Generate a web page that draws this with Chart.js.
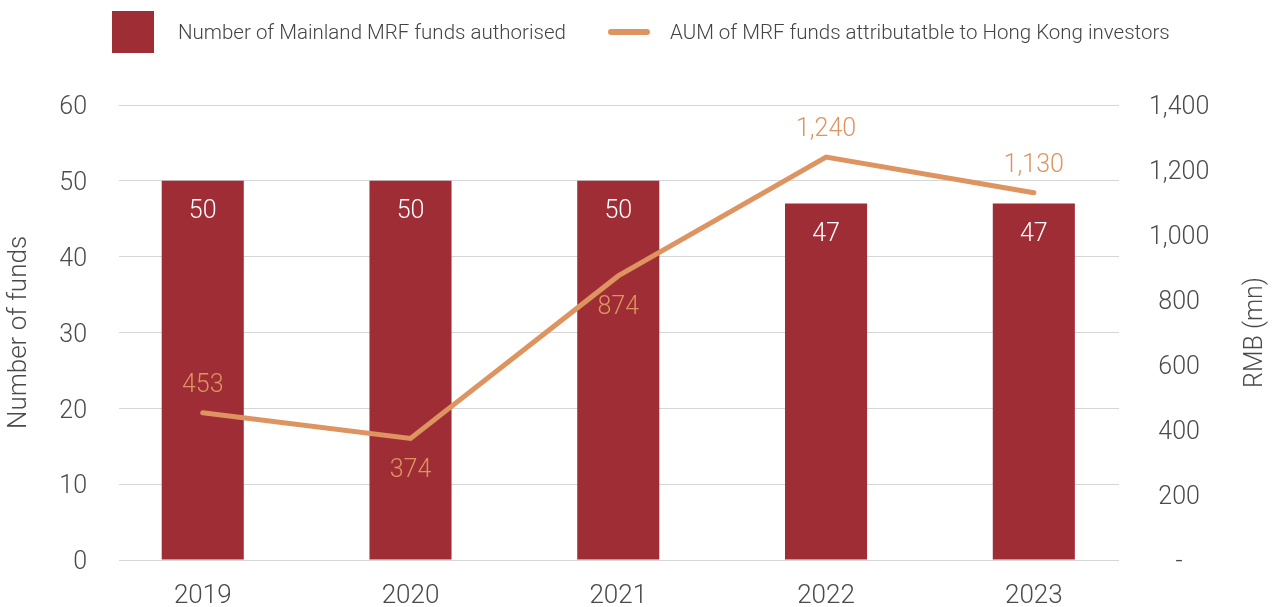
<!DOCTYPE html>
<html>
<head>
<meta charset="utf-8">
<script src="https://cdn.jsdelivr.net/npm/chart.js@4"></script>
<style>
  html, body { margin: 0; padding: 0; background: #fff; }
  #wrap { position: relative; width: 1272px; height: 607px; }
  #legend { position: absolute; left: 0; top: 0; width: 1272px; height: 64px; font-family: Roboto, sans-serif; font-weight: 300; font-size: 20.5px; color: #444; }
  #legend .item { position: absolute; top: 0; height: 64px; display: flex; align-items: center; }
  #legend .swatch { flex: none; }
  #legend .label { white-space: nowrap; }
</style>
</head>
<body>
<div id="wrap">
  <canvas id="chart" width="1272" height="607"></canvas>
  <div id="legend"></div>
</div>
<script>
const years = ["2019", "2020", "2021", "2022", "2023"];
const fundCounts = [50, 50, 50, 47, 47];
const aumRmb = [453, 374, 874, 1240, 1130];
const aumLabelSide = ["above", "below", "below", "above", "above"];

const fundTicks = [0, 10, 20, 30, 40, 50, 60];
const rmbTicks = [0, 200, 400, 600, 800, 1000, 1200, 1400];

const barColor = "#9e2d35";
const lineColor = "#de9460";
const textColor = "#4a4a4a";
const font = "Roboto, sans-serif";

const fmt = v => v.toLocaleString("en-US");

// value labels: white inside the bars, orange around the line points
const valueLabels = {
  id: "valueLabels",
  afterDatasetsDraw(chart) {
    const ctx = chart.ctx;
    ctx.save();
    ctx.font = "300 25px " + font;
    ctx.textAlign = "center";
    ctx.textBaseline = "middle";
    chart.data.datasets.forEach((ds, di) => {
      const meta = chart.getDatasetMeta(di);
      meta.data.forEach((el, i) => {
        const v = ds.data[i].y;
        if (ds.type === "bar") {
          ctx.fillStyle = "#ffffff";
          ctx.fillText(fmt(v), el.x, el.y + 31);
        } else {
          ctx.fillStyle = lineColor;
          const dy = aumLabelSide[i] === "above" ? -27 : 32;
          ctx.fillText(fmt(v), el.x, el.y + dy);
        }
      });
    });
    ctx.restore();
  }
};

// right axis title, reading bottom to top like the left one
const rightTitle = {
  id: "rightTitle",
  afterDraw(chart) {
    const s = chart.scales.y1;
    const ctx = chart.ctx;
    ctx.save();
    ctx.translate(s.right - 16, (chart.chartArea.top + chart.chartArea.bottom) / 2);
    ctx.rotate(-Math.PI / 2);
    ctx.font = "300 25px " + font;
    ctx.fillStyle = textColor;
    ctx.textAlign = "center";
    ctx.textBaseline = "middle";
    ctx.fillText("RMB (mn)", 0, 0);
    ctx.restore();
  }
};

const chart = new Chart(document.getElementById("chart").getContext("2d"), {
  data: {
    datasets: [
      {
        type: "line",
        label: "AUM of MRF funds attributatble to Hong Kong investors",
        data: aumRmb.map((v, i) => ({ x: i, y: v })),
        yAxisID: "y1",
        borderColor: lineColor,
        borderWidth: 5,
        borderCapStyle: "round",
        pointRadius: 0,
        tension: 0,
        order: 0
      },
      {
        type: "bar",
        label: "Number of Mainland MRF funds authorised",
        data: fundCounts.map((v, i) => ({ x: i, y: v })),
        yAxisID: "y",
        backgroundColor: barColor,
        categoryPercentage: 1,
        barPercentage: 0.395,
        order: 1
      }
    ]
  },
  options: {
    responsive: false,
    animation: false,
    layout: { padding: { top: 105, left: 0, right: 0, bottom: 0 } },
    plugins: {
      legend: { display: false },
      tooltip: { enabled: false }
    },
    scales: {
      x: {
        type: "linear",
        offset: false,
        min: -0.403,
        max: 4.41,
        afterBuildTicks: s => { s.ticks = years.map((_, i) => ({ value: i })); },
        afterFit: s => { s.height = 45; },
        ticks: {
          callback: v => years[v],
          color: textColor,
          font: { family: font, size: 26, weight: 300 },
          padding: 13
        },
        grid: { display: false },
        border: { display: false }
      },
      y: {
        position: "left",
        min: 0,
        max: 60,
        afterBuildTicks: s => { s.ticks = fundTicks.map(v => ({ value: v })); },
        afterFit: s => { s.width = 119; },
        ticks: {
          color: textColor,
          font: { family: font, size: 25, weight: 300 },
          padding: 32,
          labelOffset: 3
        },
        grid: { color: "#d6d6d6", lineWidth: 1, drawTicks: false },
        border: { display: false },
        title: {
          display: true,
          text: "Number of funds",
          color: textColor,
          font: { family: font, size: 26, weight: 300 },
          padding: { top: 4, bottom: 0 }
        }
      },
      y1: {
        position: "right",
        min: 0,
        max: 1400,
        afterBuildTicks: s => { s.ticks = rmbTicks.map(v => ({ value: v })); },
        afterFit: s => { s.width = 153; },
        ticks: {
          color: textColor,
          font: { family: font, size: 25, weight: 300 },
          padding: 30,
          labelOffset: 3,
          crossAlign: "center",
          callback: v => (v === 0 ? "-" : fmt(v))
        },
        grid: { drawOnChartArea: false, drawTicks: false },
        border: { display: false }
      }
    }
  },
  plugins: [valueLabels, rightTitle]
});

// legend above the plot, one entry per dataset
const legendPlaces = { bar: 112, line: 608 };
const legendEl = document.getElementById("legend");
[1, 0].forEach(di => {
  const ds = chart.data.datasets[di];
  const item = document.createElement("div");
  item.className = "item";
  item.style.left = legendPlaces[ds.type] + "px";
  const sw = document.createElement("div");
  sw.className = "swatch";
  if (ds.type === "bar") {
    sw.style.cssText = "width:42px;height:42px;background:" + ds.backgroundColor + ";margin-right:24px;";
  } else {
    sw.style.cssText = "width:42px;height:6px;border-radius:3px;background:" + ds.borderColor + ";margin-right:20px;";
  }
  const lb = document.createElement("span");
  lb.className = "label";
  lb.textContent = ds.label;
  item.appendChild(sw);
  item.appendChild(lb);
  legendEl.appendChild(item);
});
</script>
</body>
</html>
